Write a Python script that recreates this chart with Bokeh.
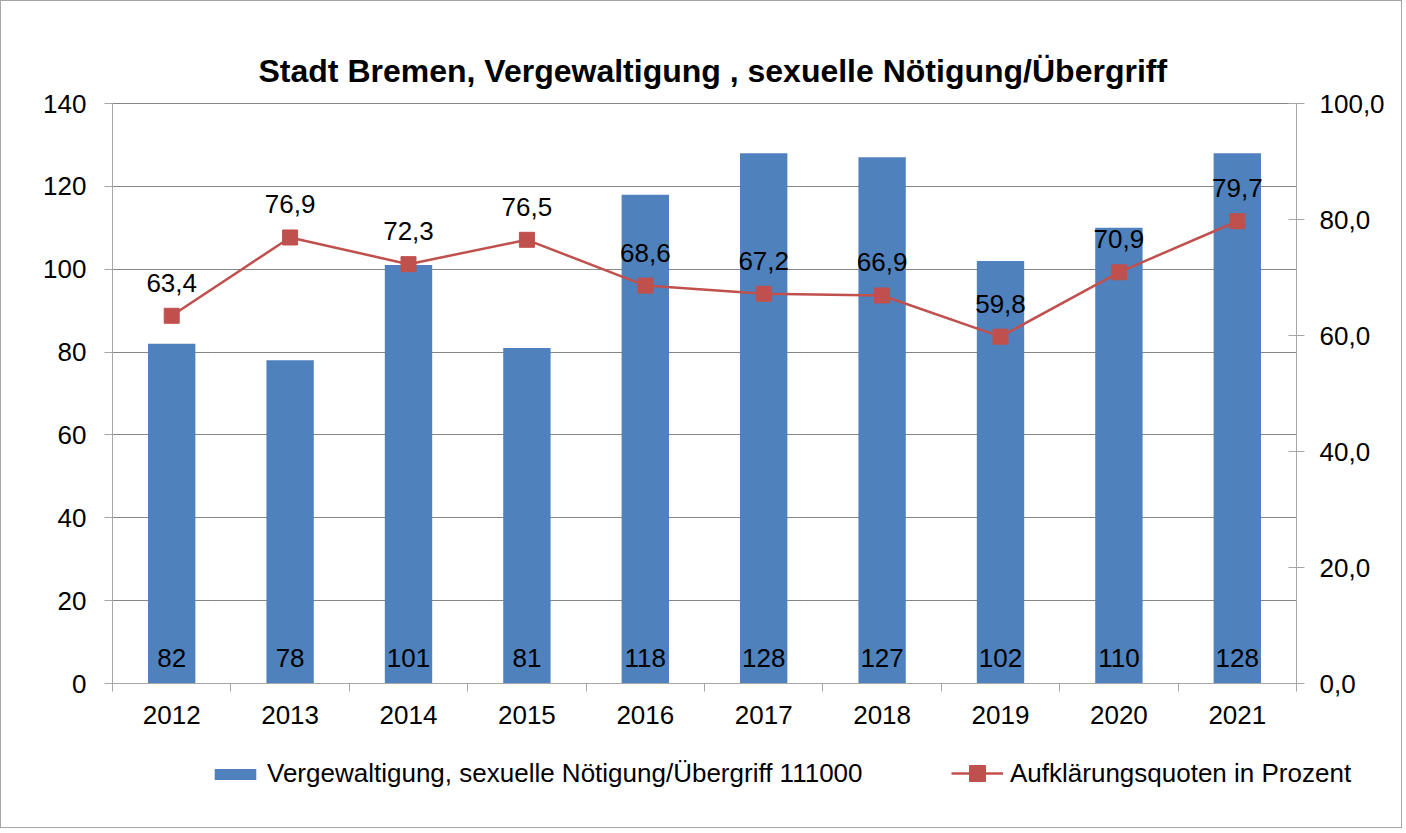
from bokeh.plotting import figure
from bokeh.models import (ColumnDataSource, Range1d, LinearAxis, FixedTicker, LabelSet,
                          Label, Legend, LegendItem)
from bokeh.core.properties import value
from bokeh.embed import file_html
from bokeh.resources import INLINE

years = ["2012", "2013", "2014", "2015", "2016", "2017", "2018", "2019", "2020", "2021"]
cases = [82, 78, 101, 81, 118, 128, 127, 102, 110, 128]
rates = [63.4, 76.9, 72.3, 76.5, 68.6, 67.2, 66.9, 59.8, 70.9, 79.7]
left_ticks = [0, 20, 40, 60, 80, 100, 120, 140]
right_ticks = [0, 20, 40, 60, 80, 100]

title_text = "Stadt Bremen, Vergewaltigung , sexuelle Nötigung/Übergriff"
bar_name = "Vergewaltigung, sexuelle Nötigung/Übergriff 111000"
line_name = "Aufklärungsquoten in Prozent"

FONT = "Liberation Sans"
FS = "26px"
BAR_C = "#4F81BD"
LINE_C = "#C0504D"
AXIS_C = "#A6A6A6"
GRID_C = "#868686"

n = len(years)
xpos = [i + 0.5 for i in range(n)]
src = ColumnDataSource(dict(
    x=xpos, year=years, cases=cases, rates=rates,
    case_lbl=[str(v) for v in cases],
    rate_lbl=[f"{v:.1f}".replace(".", ",") for v in rates],
))

# canvas and plot-area geometry (pixels)
W, H = 1402, 828
PL, PT, PW, PH = 111, 102, 1184, 580          # plot area inside canvas
PB = H - PT - PH                                # space below plot area
PR = W - PL - PW                                # space right of plot area
LMAX, RMAX = left_ticks[-1], right_ticks[-1]

# the frame covers the whole canvas so that title/legend are not clipped;
# ranges are widened so that the data area lands on the plot area
xu = PW / n
x_range = Range1d(-PL / xu, n + PR / xu)
yu = PH / LMAX
y_range = Range1d(-PB / yu, LMAX + PT / yu)
ru = PH / RMAX
r_range = Range1d(-PB / ru, RMAX + PT / ru)

p = figure(width=W, height=H, output_backend="svg", toolbar_location=None,
           x_range=x_range, y_range=y_range,
           min_border_left=0, min_border_top=0, min_border_right=0, min_border_bottom=0,
           styles={"border": "1px solid #A6A6A6"})
p.extra_y_ranges = {"rate": r_range}
p.outline_line_color = None
p.background_fill_color = "white"
p.border_fill_color = "white"

# axes
xa = p.xaxis[0]
xa.fixed_location = 0
xa.bounds = (0, n)
xa.ticker = FixedTicker(ticks=xpos, minor_ticks=list(range(n + 1)))
xa.major_label_overrides = {x: y for x, y in zip(xpos, years)}
xa.major_tick_line_color = None
xa.minor_tick_line_color = AXIS_C
xa.minor_tick_in = 0
xa.minor_tick_out = 8
xa.axis_line_color = AXIS_C
xa.major_label_standoff = 14

ya = p.yaxis[0]
ya.fixed_location = 0
ya.bounds = (0, LMAX)
ya.ticker = FixedTicker(ticks=left_ticks)
ya.minor_tick_line_color = None
ya.major_tick_in = 0
ya.major_tick_out = 8
ya.major_tick_line_color = AXIS_C
ya.axis_line_color = AXIS_C
ya.major_label_standoff = 18

raxis = LinearAxis(y_range_name="rate", ticker=FixedTicker(ticks=right_ticks),
                   fixed_location=n, bounds=(0, RMAX))
raxis.major_label_overrides = {t: f"{t:.1f}".replace(".", ",") for t in right_ticks}
raxis.minor_tick_line_color = None
raxis.major_tick_in = 8
raxis.major_tick_out = 8
raxis.major_tick_line_color = AXIS_C
raxis.axis_line_color = AXIS_C
raxis.major_label_standoff = 15
p.add_layout(raxis, "right")

for ax in [xa, ya, raxis]:
    ax.major_label_text_font = FONT
    ax.major_label_text_font_size = FS
    ax.major_label_text_color = "black"

p.xgrid.grid_line_color = None
p.ygrid.ticker = FixedTicker(ticks=left_ticks)
p.ygrid.cross_bounds = (0, n)
p.ygrid.grid_line_color = GRID_C
p.ygrid.grid_line_width = 1

bars = p.vbar(x="x", top="cases", width=0.4, source=src, fill_color=BAR_C, line_color=None)
line = p.line(x="x", y="rates", source=src, y_range_name="rate", line_color=LINE_C, line_width=2.5)
marks = p.scatter(x="x", y="rates", source=src, y_range_name="rate", marker="square",
                  size=15, fill_color=LINE_C, line_color=LINE_C)

p.add_layout(LabelSet(x="x", y=0, text="case_lbl", source=src, y_offset=26,
                      text_align="center", text_baseline="middle",
                      text_font=value(FONT), text_font_size=FS, text_color="black"))
p.add_layout(LabelSet(x="x", y="rates", y_range_name="rate", text="rate_lbl", source=src,
                      y_offset=33, text_align="center", text_baseline="middle",
                      text_font=value(FONT), text_font_size=FS, text_color="black"))

p.add_layout(Label(x=0, y=LMAX, x_offset=146, y_offset=33, text=title_text,
                   text_align="left", text_baseline="alphabetic",
                   text_font=FONT, text_font_size="32px", text_font_style="bold",
                   text_color="black"))

common = dict(orientation="horizontal", padding=0, margin=0,
              border_line_color=None, background_fill_alpha=0,
              label_text_font=FONT, label_text_font_size=FS, label_text_color="black")
leg1 = Legend(items=[LegendItem(label=bar_name, renderers=[bars])],
              location=(208, 40), glyph_width=52, glyph_height=14, label_standoff=6, **common)
leg2 = Legend(items=[LegendItem(label=line_name, renderers=[line, marks])],
              location=(950, 36), glyph_width=52, glyph_height=40, label_standoff=7, **common)
p.add_layout(leg1, "center")
p.add_layout(leg2, "center")

open("out.html", "w").write(file_html(p, INLINE))
